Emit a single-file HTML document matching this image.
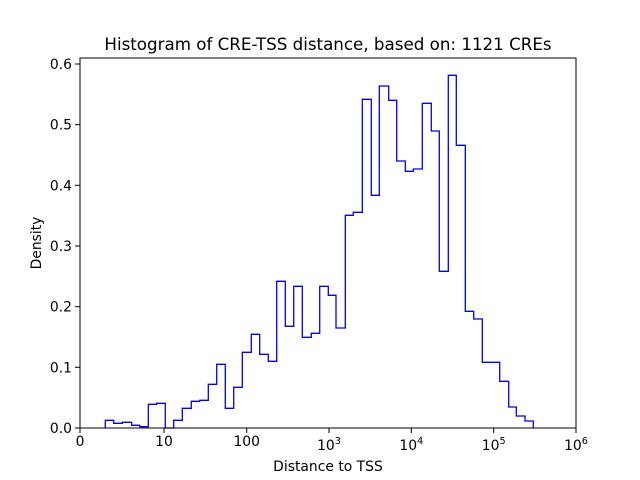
<!DOCTYPE html>
<html><head><meta charset="utf-8"><style>
body{margin:0;background:#fff}
svg{display:block;font-family:"DejaVu Sans","Liberation Sans",sans-serif}
</style></head><body>
<svg width="640" height="480" viewBox="0 0 640 480">
<rect width="640" height="480" fill="#fff"/>
<path fill="none" stroke="#0000ff" stroke-width="1.3" d="M105.3,428 V420.3 H113.7 V423.3 H122.3 V422.3 H131.7 V425.3 H139.7 V426.7 H148.3 V404.3 H156.7 V403.3 H165.3 V428 H173.7 V420.3 H182.3 V408.3 H191.3 V401.3 H199.7 V400.3 H208.3 V384.3 H216.7 V364.3 H225.3 V408.3 H233.7 V387.3 H242.3 V352.3 H251.3 V334.3 H259.7 V354.3 H268.3 V361.3 H276.7 V281.3 H285.3 V326.3 H293.7 V286.3 H302.3 V337.3 H311.3 V333.3 H319.7 V286.3 H328.3 V295.3 H336 V328 H345.3 V215.3 H353.3 V212.3 H362.3 V99.3 H371.3 V195.3 H379.3 V86 H388.7 V100.3 H396.7 V161 H405.3 V171.3 H413.3 V169 H422.3 V103.3 H431.3 V131 H439.3 V271.3 H448.3 V75.3 H456.3 V145.3 H465.3 V311.3 H473.7 V319 H482.3 V362.3 H499.7 V381.3 H508.7 V407 H516.3 V416 H525 V421 H533.3 V428"/>
<rect x="80" y="58" width="496" height="370" fill="none" stroke="#000" stroke-width="1"/>
<g stroke="#000" stroke-width="1">
<line x1="80" y1="428" x2="80" y2="433"/><line x1="164" y1="428" x2="164" y2="433"/><line x1="246.7" y1="428" x2="246.7" y2="433"/><line x1="329" y1="428" x2="329" y2="433"/><line x1="411.3" y1="428" x2="411.3" y2="433"/><line x1="493.7" y1="428" x2="493.7" y2="433"/><line x1="576" y1="428" x2="576" y2="433"/>
<line x1="75" y1="428" x2="80" y2="428"/><line x1="75" y1="367.3" x2="80" y2="367.3"/><line x1="75" y1="306.7" x2="80" y2="306.7"/><line x1="75" y1="246" x2="80" y2="246"/><line x1="75" y1="185.3" x2="80" y2="185.3"/><line x1="75" y1="124.7" x2="80" y2="124.7"/><line x1="75" y1="64" x2="80" y2="64"/>
</g>
<g font-size="13.9" text-anchor="middle" fill="#000">
<text x="80" y="446">0</text><text x="164" y="446">10</text><text x="246.7" y="446">100</text>
<text x="329" y="450">10<tspan font-size="9.7" dy="-6">3</tspan></text>
<text x="411.3" y="450">10<tspan font-size="9.7" dy="-6">4</tspan></text>
<text x="493.7" y="450">10<tspan font-size="9.7" dy="-6">5</tspan></text>
<text x="576" y="450">10<tspan font-size="9.7" dy="-6">6</tspan></text>
</g>
<g font-size="13.9" text-anchor="end" fill="#000">
<text x="72" y="433">0.0</text><text x="72" y="372.3">0.1</text><text x="72" y="311.7">0.2</text><text x="72" y="251">0.3</text><text x="72" y="190.3">0.4</text><text x="72" y="129.7">0.5</text><text x="72" y="69">0.6</text>
</g>
<text x="328" y="471" font-size="13.9" text-anchor="middle">Distance to TSS</text>
<text transform="translate(41,243) rotate(-90)" font-size="13.9" text-anchor="middle">Density</text>
<text x="328" y="50" font-size="16.7" text-anchor="middle">Histogram of CRE-TSS distance, based on: 1121 CREs</text>
</svg>
</body></html>
